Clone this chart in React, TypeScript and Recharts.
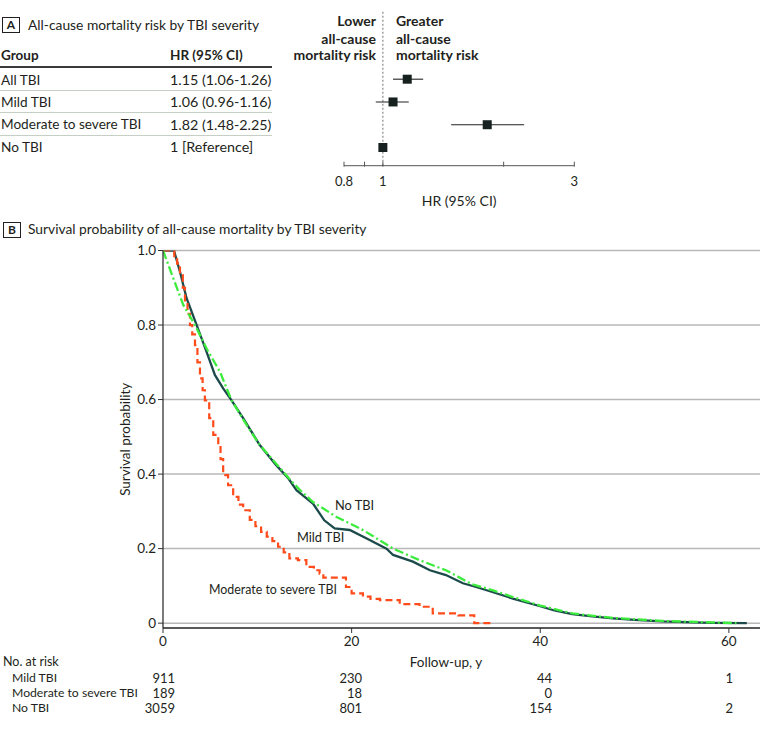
import React from 'react';
import {
  LineChart, Line, XAxis, YAxis, CartesianGrid, ReferenceDot,
  ScatterChart, Scatter, ErrorBar, ReferenceLine,
} from 'recharts';

const FONT = '"Liberation Sans Narrow", "Arial Narrow", Lato, "Noto Sans", sans-serif';
const INK = '#231f20';

// Panel A: hazard ratios
const groups = ['All TBI', 'Mild TBI', 'Moderate to severe TBI', 'No TBI'];
const hrValues = [1.15, 1.06, 1.82, 1];
const hrLow = [1.06, 0.96, 1.48, 1];
const hrHigh = [1.26, 1.16, 2.25, 1];
const hrText = ['1.15 (1.06-1.26)', '1.06 (0.96-1.16)', '1.82 (1.48-2.25)', '1 [Reference]'];
const hrTicks = [0.8, 0.9, 1, 2, 3];
const hrTickLabels = ['0.8', '', '1', '', '3'];

// Panel B: Kaplan-Meier curves (years, survival probability)
const mildTime = [0, 1.16, 1.8, 2.5, 3.57, 4.62, 5.5, 6.38, 7.27, 8.5, 10.26, 12.0, 13.3, 14.15, 15.9, 17.1, 18.2, 19.8, 21.6, 23.7, 24.4, 26.5, 28.3, 30.0, 31.8, 33.2, 35.0, 37.1, 39.9, 41.5, 43.4, 45.5, 47.7, 50.0, 52.9, 55.5, 58.2, 61.9];
const mildSurv = [1, 1, 0.943, 0.872, 0.8, 0.728, 0.666, 0.63, 0.598, 0.55, 0.478, 0.424, 0.388, 0.357, 0.321, 0.276, 0.254, 0.25, 0.227, 0.2, 0.183, 0.165, 0.142, 0.129, 0.107, 0.097, 0.083, 0.066, 0.046, 0.034, 0.024, 0.018, 0.013, 0.009, 0.005, 0.003, 0.001, 0];

const modTime = [0, 1.2, 1.5, 1.8, 2.1, 2.33, 2.6, 2.86, 3.1, 3.39, 3.65, 3.92, 4.2, 4.44, 4.9, 5.33, 5.86, 6.1, 6.38, 6.9, 7.44, 8.0, 8.5, 9.2, 9.8, 10.4, 11.0, 11.6, 12.2, 12.8, 13.4, 14.3, 15.2, 16.0, 16.6, 17.0, 19.4, 20.0, 21.2, 22.0, 23.0, 25.1, 27.2, 28.6, 31.3, 33.0, 35.1];
const modSurv = [1, 0.985, 0.965, 0.934, 0.9, 0.863, 0.83, 0.8, 0.775, 0.746, 0.7, 0.657, 0.625, 0.598, 0.55, 0.505, 0.478, 0.44, 0.397, 0.37, 0.339, 0.318, 0.303, 0.277, 0.26, 0.245, 0.232, 0.22, 0.205, 0.19, 0.174, 0.169, 0.151, 0.142, 0.133, 0.122, 0.097, 0.08, 0.071, 0.065, 0.062, 0.051, 0.044, 0.026, 0.021, 0, 0];

const noTime = [0, 1.1, 2.15, 3.39, 4.62, 6.03, 7.27, 8.86, 10.26, 12.0, 13.3, 14.5, 15.9, 18.4, 21.2, 24.4, 27.2, 30.0, 32.8, 35.0, 37.1, 39.9, 43.4, 47.7, 52.9, 58.2, 60.8];
const noSurv = [1, 0.925, 0.854, 0.8, 0.737, 0.675, 0.598, 0.532, 0.478, 0.428, 0.39, 0.358, 0.325, 0.285, 0.25, 0.2, 0.169, 0.142, 0.104, 0.088, 0.07, 0.048, 0.026, 0.014, 0.006, 0.002, 0];

const xTicks = [0, 20, 40, 60];
const yTicks = [0, 0.2, 0.4, 0.6, 0.8, 1.0];

// Number at risk
const riskGroups = ['Mild TBI', 'Moderate to severe TBI', 'No TBI'];
const riskMild = ['911', '230', '44', '1'];
const riskMod = ['189', '18', '0', ''];
const riskNo = ['3059', '801', '154', '2'];
const riskRight = [175, 362, 552, 733];

const zip = (t: number[], s: number[]) => t.map((v, i) => ({ t: v, s: s[i] }));
const mildData = zip(mildTime, mildSurv);
const modData = zip(modTime, modSurv);
const noData = zip(noTime, noSurv);
const forestData = groups.map((g, i) => ({
  group: g, hr: hrValues[i], row: i, ci: [hrValues[i] - hrLow[i], hrHigh[i] - hrValues[i]],
}));

function T({ x, y, size = 14, bold = false, align = 'left', children }: any) {
  const h = size * 1.25;
  const shift = align === 'right' ? 'translateX(-100%)' : align === 'center' ? 'translateX(-50%)' : 'none';
  return (
    <div style={{
      position: 'absolute', left: x, top: y - h / 2, height: h, lineHeight: `${h}px`,
      fontSize: size, fontWeight: bold ? 700 : 400, whiteSpace: 'nowrap', transform: shift,
    }}>{children}</div>
  );
}

function Badge({ x, y, letter }: any) {
  return (
    <div style={{
      position: 'absolute', left: x, top: y, width: 16, height: 14, border: `1.3px solid ${INK}`,
      fontSize: 12, fontWeight: 700, lineHeight: '14px', textAlign: 'center',
    }}>{letter}</div>
  );
}

const Square = (p: any) => (
  <rect x={p.cx - 4.5} y={p.cy - 4.5} width={9} height={9} fill="#16211f" />
);

// tick mark sits on the axis line, label below
const ForestTick = (p: any) => {
  const { x, y, payload } = p;
  const label = hrTickLabels[hrTicks.indexOf(payload.value)] ?? '';
  return (
    <g>
      <line x1={x} x2={x} y1={y - 14} y2={y - 9} stroke="#555" strokeWidth={1} />
      <text x={x} y={y} dy="0.8em" textAnchor="middle" fill={INK} fontSize={13}>{label}</text>
    </g>
  );
};

export default function App() {
  return (
    <div style={{
      position: 'absolute', left: 0, top: 0, width: 780, height: 729, background: '#fff',
      fontFamily: FONT, color: INK, overflow: 'hidden',
    }}>
      {/* Panel A header */}
      <Badge x={2} y={17} letter="A" />
      <T x={28} y={25} size={13.8}>All-cause mortality risk by TBI severity</T>

      {/* Panel A table */}
      <T x={1} y={55} size={13.5} bold>Group</T>
      <T x={170} y={55} size={13.5} bold>HR (95% CI)</T>
      <div style={{ position: 'absolute', left: 0, top: 65.5, width: 272, height: 2, background: '#3a3a3a' }} />
      {groups.map((g, i) => (
        <React.Fragment key={g}>
          <T x={1} y={80 + i * 22.4} size={13.6}>{g}</T>
          <T x={170} y={80 + i * 22.4} size={14.3}>{hrText[i]}</T>
          {i < groups.length - 1 && (
            <div style={{ position: 'absolute', left: 0, top: 89.5 + i * 22.8, width: 272, height: 1, background: '#c5cfc5' }} />
          )}
        </React.Fragment>
      ))}

      {/* Panel A forest plot */}
      <T x={376} y={21} size={14} bold align="right">Lower</T>
      <T x={376} y={38.5} size={14} bold align="right">all-cause</T>
      <T x={376} y={55} size={14} bold align="right">mortality risk</T>
      <T x={396} y={21} size={14} bold>Greater</T>
      <T x={396} y={38.5} size={14} bold>all-cause</T>
      <T x={396} y={55} size={14} bold>mortality risk</T>
      <div style={{ position: 'absolute', left: 290, top: 0 }}>
        <ScatterChart width={340} height={215} margin={{ top: 10.9, right: 55.7, bottom: 9.3, left: 54 }}>
          <XAxis
            type="number" dataKey="hr" scale="log" domain={[0.8, 3]} ticks={hrTicks} interval={0}
            height={40} tickLine={false} tickSize={4} tickMargin={6} tick={<ForestTick />}
            axisLine={{ stroke: '#555', strokeWidth: 1 }} allowDataOverflow
            label={{ value: 'HR (95% CI)', position: 'insideBottom', offset: 0, fill: INK, fontSize: 14 }}
          />
          <YAxis type="number" dataKey="row" domain={[-3, 3.8]} reversed hide />
          <ReferenceLine x={1} stroke="#888" strokeDasharray="2 2" strokeWidth={1.2} />
          <Scatter data={forestData} shape={Square} isAnimationActive={false}>
            <ErrorBar dataKey="ci" direction="x" width={0} stroke="#222" strokeWidth={1.1} />
          </Scatter>
        </ScatterChart>
      </div>

      {/* Panel B header */}
      <Badge x={3} y={222} letter="B" />
      <T x={28} y={229} size={13.8}>Survival probability of all-cause mortality by TBI severity</T>

      {/* Panel B chart */}
      <div style={{ position: 'absolute', left: 0, top: 230 }}>
        <LineChart width={780} height={428} margin={{ top: 20.5, right: 20, bottom: 0, left: 0 }}>
          <CartesianGrid vertical={false} stroke="#b8b8b8" strokeWidth={1.5} />
          <XAxis
            type="number" dataKey="t" domain={[0, 63.3]} ticks={xTicks} height={30}
            tickSize={5} tickMargin={3} allowDataOverflow
            axisLine={{ stroke: '#333', strokeWidth: 1.3 }} tickLine={{ stroke: '#333' }}
            tick={{ fill: INK, fontSize: 13.5 }}
          />
          <YAxis
            type="number" domain={[-0.013, 1]} ticks={yTicks} width={163}
            tickSize={5} tickMargin={2} allowDataOverflow
            tickFormatter={(v: number) => (v === 0 ? '0' : v.toFixed(1))}
            axisLine={{ stroke: '#333', strokeWidth: 1.3 }} tickLine={{ stroke: '#333' }}
            tick={{ fill: INK, fontSize: 13.5 }}
            label={{ value: 'Survival probability', angle: -90, position: 'center', dx: 44, fill: INK, fontSize: 13.5 }}
          />
          <Line data={mildData} dataKey="s" type="linear" dot={false} stroke="#1c4a4b" strokeWidth={2.3} isAnimationActive={false} />
          <Line data={modData} dataKey="s" type="stepAfter" dot={false} stroke="#ff4a1a" strokeWidth={2.2} strokeDasharray="7 4" isAnimationActive={false} />
          <Line data={noData} dataKey="s" type="linear" dot={false} stroke="#3cec3c" strokeWidth={2.3} strokeDasharray="9 3 2 3" isAnimationActive={false} />
          <ReferenceDot x={18.23} y={0.317} r={0} fill="none" stroke="none"
            label={{ value: 'No TBI', position: 'right', offset: 0, fill: INK, fontSize: 12.8 }} />
          <ReferenceDot x={14.2} y={0.231} r={0} fill="none" stroke="none"
            label={{ value: 'Mild TBI', position: 'right', offset: 0, fill: INK, fontSize: 12.8 }} />
          <ReferenceDot x={4.88} y={0.089} r={0} fill="none" stroke="none"
            label={{ value: 'Moderate to severe TBI', position: 'right', offset: 0, fill: INK, fontSize: 12.4 }} />
        </LineChart>
      </div>

      {/* Number at risk */}
      <T x={3} y={662} size={12.5}>No. at risk</T>
      <T x={446} y={662} size={13.5} align="center">Follow-up, y</T>
      {riskGroups.map((g, i) => {
        const row = [riskMild, riskMod, riskNo][i];
        const y = 678 + i * 15;
        return (
          <React.Fragment key={g}>
            <T x={12} y={y} size={12.2}>{g}</T>
            {row.map((v, j) => (
              <T key={j} x={riskRight[j]} y={y} size={13} align="right">{v}</T>
            ))}
          </React.Fragment>
        );
      })}
    </div>
  );
}
